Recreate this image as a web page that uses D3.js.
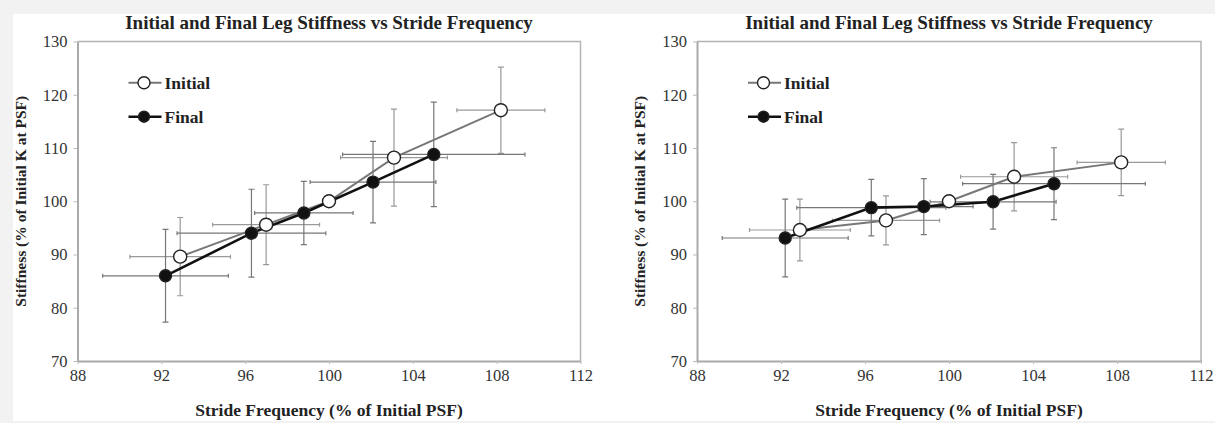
<!DOCTYPE html>
<html>
<head>
<meta charset="utf-8">
<script src="https://cdn.jsdelivr.net/npm/d3@7"></script>
<style>
    body{ margin:0; background:#f2f2f2; }
    svg{ display:block; }
    text{ font-family:"Liberation Serif", "Times New Roman", serif; }
    .title, .axis-label, .legend text{ font-weight:bold; fill:#222; }
</style>
</head>
<body>
<svg id="chart" width="1215" height="423"></svg>
<script>
// stride frequency (% of initial PSF), shared by both panels
var sfInitial = [92.9, 97.0, 100, 103.1, 108.2];
var sfInitialErr = [2.4, 2.55, 0, 2.55, 2.1];
var sfFinal = [92.2, 96.3, 98.8, 102.1, 105.0];
var sfFinalErr = [3.0, 3.55, 2.35, 3.0, 4.35];

// stiffness (% of initial K at PSF), left panel
var kInitialLeft = [89.6, 95.6, 100, 108.2, 117.1];
var kInitialLeftErr = [7.35, 7.5, 0, 9.1, 8.1];
var kFinalLeft = [86.0, 94.0, 97.8, 103.6, 108.8];
var kFinalLeftErr = [8.7, 8.25, 5.95, 7.65, 9.8];

// stiffness, right panel
var kInitialRight = [94.6, 96.4, 100, 104.6, 107.3];
var kInitialRightErr = [5.8, 4.6, 0, 6.4, 6.25];
var kFinalRight = [93.1, 98.8, 99.0, 99.9, 103.3];
var kFinalRightErr = [7.3, 5.3, 5.25, 5.15, 6.75];

var xTicks = [88, 92, 96, 100, 104, 108, 112];
var yTicks = [70, 80, 90, 100, 110, 120, 130];

var titleText = 'Initial and Final Leg Stiffness vs Stride Frequency';
var xLabelText = 'Stride Frequency (% of Initial PSF)';
var yLabelText = 'Stiffness (% of Initial K at PSF)';

var serif = '"Liberation Serif", "Times New Roman", serif';

function zipSeries(xs, xe, ys, ye){
    return xs.map(function(x, i){
        return {x:x, xe:xe[i], y:ys[i], ye:ye[i]};
    });
}

function stiffnessChart(){
    var left = 77.5, right = 580.5, top = 41.5, bottom = 361;
    var series = [];

    function chart(parent){
        var xScale = d3.scaleLinear().domain([88, 112]).range([left, right]);
        var yScale = d3.scaleLinear().domain([70, 130]).range([bottom, top]);

        // frame top / right
        parent.append('path')
            .attr('d', 'M' + left + ',' + top + 'H' + right + 'V' + bottom)
            .attr('fill', 'none')
            .attr('stroke', '#b4b4b4')
            .attr('stroke-width', 1.5);

        var xAxis = parent.append('g')
            .attr('transform', 'translate(0,' + bottom + ')')
            .call(d3.axisBottom(xScale).tickValues(xTicks).tickSize(3).tickPadding(5).tickSizeOuter(0));
        var yAxis = parent.append('g')
            .attr('transform', 'translate(' + left + ',0)')
            .call(d3.axisLeft(yScale).tickValues(yTicks).tickSize(4).tickPadding(6).tickSizeOuter(0));

        [xAxis, yAxis].forEach(function(ax){
            ax.select('.domain').attr('stroke', '#aaa').attr('stroke-width', 2);
            ax.selectAll('.tick line').attr('stroke', '#bbb');
            ax.selectAll('.tick text')
                .style('font-family', serif)
                .style('font-size', '16.5px')
                .attr('fill', '#333');
        });

        parent.append('text')
            .attr('class', 'title')
            .attr('x', (left + right) / 2)
            .attr('y', 29)
            .attr('text-anchor', 'middle')
            .attr('font-size', 19)
            .text(titleText);

        parent.append('text')
            .attr('class', 'axis-label')
            .attr('x', (left + right) / 2)
            .attr('y', 416)
            .attr('text-anchor', 'middle')
            .attr('font-size', 17.5)
            .text(xLabelText);

        parent.append('text')
            .attr('class', 'axis-label')
            .attr('transform', 'translate(' + (left - 52) + ',' + ((top + bottom) / 2) + ') rotate(-90)')
            .attr('text-anchor', 'middle')
            .attr('font-size', 15.5)
            .text(yLabelText);

        // error bars first, so markers sit on top
        series.forEach(function(s){
            var g = parent.append('g').attr('stroke', s.barColour).attr('stroke-width', 1.2);
            var pts = s.data.filter(function(d){ return d.xe > 0 || d.ye > 0; });

            g.selectAll('.h').data(pts).enter().append('path')
                .attr('d', function(d){
                    var x0 = xScale(d.x - d.xe), x1 = xScale(d.x + d.xe), y = yScale(d.y);
                    return 'M' + x0 + ',' + y + 'H' + x1 +
                        'M' + x0 + ',' + (y - 2) + 'V' + (y + 2) +
                        'M' + x1 + ',' + (y - 2) + 'V' + (y + 2);
                });
            g.selectAll('.v').data(pts).enter().append('path')
                .attr('d', function(d){
                    var y0 = yScale(d.y - d.ye), y1 = yScale(d.y + d.ye), x = xScale(d.x);
                    return 'M' + x + ',' + y0 + 'V' + y1 +
                        'M' + (x - 3) + ',' + y0 + 'H' + (x + 3) +
                        'M' + (x - 3) + ',' + y1 + 'H' + (x + 3);
                });
        });

        var line = d3.line()
            .x(function(d){ return xScale(d.x); })
            .y(function(d){ return yScale(d.y); });

        series.forEach(function(s){
            parent.append('path')
                .datum(s.data)
                .attr('d', line)
                .attr('fill', 'none')
                .attr('stroke', s.lineColour)
                .attr('stroke-width', s.lineWidth);
        });

        series.forEach(function(s){
            parent.append('g').selectAll('circle')
                .data(s.data)
                .enter()
                .append('circle')
                .attr('cx', function(d){ return xScale(d.x); })
                .attr('cy', function(d){ return yScale(d.y); })
                .attr('r', s.radius)
                .attr('fill', s.fill)
                .attr('stroke', '#222')
                .attr('stroke-width', 1.4);
        });

        //legend
        var legend = parent.append('g')
            .attr('class', 'legend')
            .attr('transform', 'translate(' + (left + 51) + ',0)');
        series.forEach(function(s, i){
            var y = 82.7 + i * 34;
            legend.append('line')
                .attr('x1', 0).attr('x2', 33)
                .attr('y1', y).attr('y2', y)
                .attr('stroke', s.lineColour)
                .attr('stroke-width', s.lineWidth);
            legend.append('circle')
                .attr('cx', 15.5).attr('cy', y)
                .attr('r', s.radius - 0.5)
                .attr('fill', s.fill)
                .attr('stroke', '#222')
                .attr('stroke-width', 1.4);
            legend.append('text')
                .attr('x', 36).attr('y', y + 6)
                .attr('font-size', 17.5)
                .text(s.name);
        });
    }

    chart.range = function(l, r){
        left = l;
        right = r;
        return chart;
    };

    chart.series = function(s){
        if(!s) return series;
        series = s;
        return chart;
    };

    return chart;
}

var svg = d3.select('#chart');
svg.append('rect')
    .attr('x', 13).attr('y', 14)
    .attr('width', 1202).attr('height', 407)
    .attr('fill', '#fff');

function panelSeries(kInit, kInitErr, kFin, kFinErr){
    return [
        {name:'Initial', data:zipSeries(sfInitial, sfInitialErr, kInit, kInitErr),
            lineColour:'#777', lineWidth:2, fill:'#fff', radius:6.5, barColour:'#999'},
        {name:'Final', data:zipSeries(sfFinal, sfFinalErr, kFin, kFinErr),
            lineColour:'#111', lineWidth:2.6, fill:'#111', radius:6, barColour:'#777'}
    ];
}

svg.append('g').call(stiffnessChart()
    .range(77.5, 580.5)
    .series(panelSeries(kInitialLeft, kInitialLeftErr, kFinalLeft, kFinalLeftErr)));

svg.append('g').call(stiffnessChart()
    .range(697, 1201)
    .series(panelSeries(kInitialRight, kInitialRightErr, kFinalRight, kFinalRightErr)));
</script>
</body>
</html>
